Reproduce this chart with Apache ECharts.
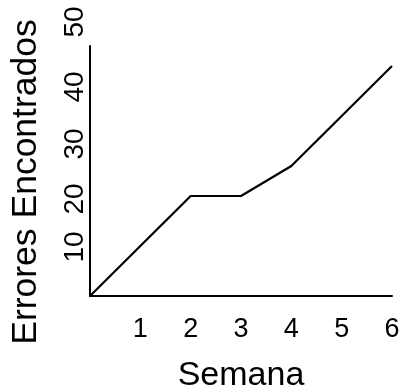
<!DOCTYPE html>
<html>
<head>
<meta charset="utf-8">
<script src="https://cdn.jsdelivr.net/npm/echarts@6/dist/echarts.min.js"></script>
<style>html,body{margin:0;padding:0;background:#fff}#c{width:401px;height:391px}</style>
</head>
<body>
<div id="c"></div>
<script>
var semanas = [0, 2, 3, 4, 6];
var errores = [0, 20, 20, 26, 46];
var xTicks = [1, 2, 3, 4, 5, 6];
var yTicks = [10, 20, 30, 40, 50];
var xTitle = 'Semana';
var yTitle = 'Errores Encontrados';

var chart = echarts.init(document.getElementById('c'), null, {renderer: 'canvas'});
var font = 'Liberation Sans, Arial, sans-serif';
// per-label nudges along the axis, as drawn in the reference
var yLabelPad = {
  t10: [0, 2, 0, 0], t20: [0, 6, 0, 0], t30: [0, 0, 0, 4],
  t40: [0, 0, 0, 18], t50: [0, 0, 0, 48]
};
var rich = {};
Object.keys(yLabelPad).forEach(function (k) {
  rich[k] = {fontFamily: font, fontSize: 28, color: '#000', padding: yLabelPad[k]};
});
chart.setOption({
  animation: false,
  backgroundColor: '#fff',
  grid: {left: 90, right: 9, top: 46, bottom: 95, containLabel: false, outerBoundsMode: 'none'},
  xAxis: {
    type: 'value', min: 0, max: 6, interval: 1,
    name: xTitle, nameLocation: 'middle', nameGap: 63,
    nameTextStyle: {fontFamily: font, fontSize: 34, color: '#000'},
    axisLine: {lineStyle: {color: '#000', width: 2}},
    axisTick: {show: false},
    splitLine: {show: false},
    axisLabel: {fontFamily: font, fontSize: 27, color: '#000', margin: 20,
      formatter: function (v) { return xTicks.indexOf(v) >= 0 ? String(v) : ''; }}
  },
  yAxis: {
    type: 'value', min: 0, max: 50, interval: 10,
    name: yTitle, nameLocation: 'middle', nameGap: 46,
    nameTextStyle: {fontFamily: font, fontSize: 35.5, color: '#000', padding: [0, 22, 0, 0]},
    axisLine: {show: true, lineStyle: {color: '#000', width: 2}},
    axisTick: {show: false},
    splitLine: {show: false},
    axisLabel: {fontFamily: font, fontSize: 28, color: '#000', rotate: 90, margin: 1, rich: rich,
      formatter: function (v) { return yTicks.indexOf(v) >= 0 ? '{t' + v + '|' + v + '}' : ''; }}
  },
  series: [{
    type: 'line',
    data: semanas.map(function (s, i) { return [s, errores[i]]; }),
    showSymbol: false,
    lineStyle: {color: '#000', width: 2.2},
    itemStyle: {color: '#000'}
  }]
});
</script>
</body>
</html>
